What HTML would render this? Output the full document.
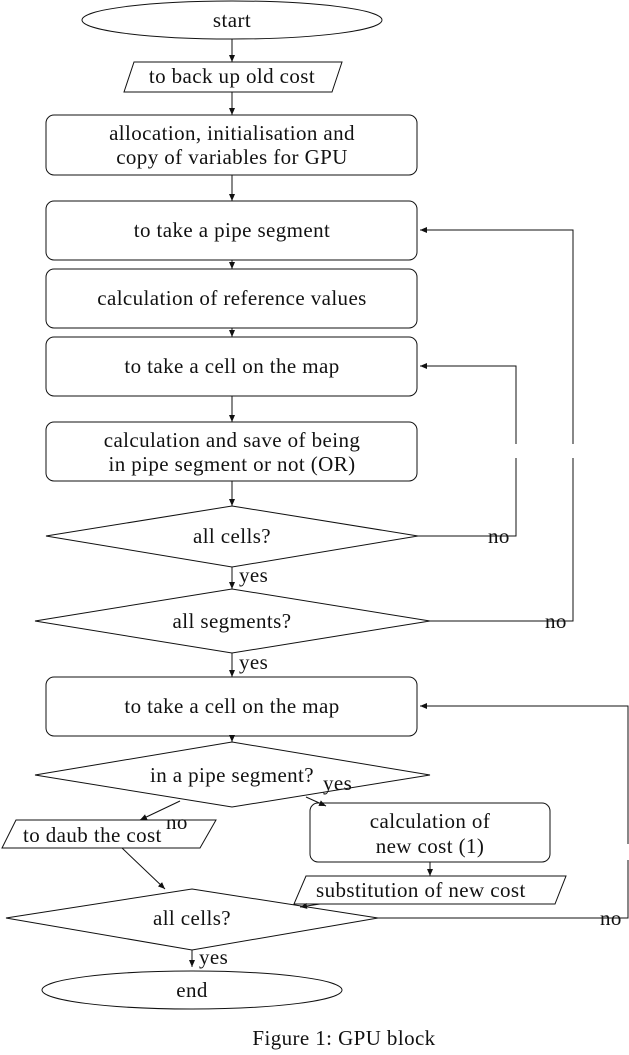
<!DOCTYPE html>
<html><head><style>body{margin:0;background:#fff}svg text{font-family:"Liberation Serif",serif;font-size:21px;letter-spacing:0.4px;fill:#111}</style></head><body>
<svg width="629" height="1050" viewBox="0 0 629 1050" xmlns="http://www.w3.org/2000/svg">
<defs><marker id="a" markerWidth="8" markerHeight="6" refX="7" refY="3" orient="auto" markerUnits="userSpaceOnUse"><path d="M0,0 L7,3 L0,6 Z" fill="#111"/></marker></defs>
<g fill="none" stroke="#111" stroke-width="1">
<ellipse cx="232" cy="20" rx="150" ry="19"/>
<polygon points="134,62 342,62 332,92 124,92"/>
<rect x="46" y="115" width="371" height="60" rx="8"/>
<rect x="46" y="201" width="371" height="59" rx="8"/>
<rect x="46" y="269" width="371" height="59" rx="8"/>
<rect x="46" y="337" width="371" height="59" rx="8"/>
<rect x="46" y="422" width="371" height="59" rx="8"/>
<polygon points="232,506 418,536 232,567 46,536"/>
<polygon points="232,589 430,621 232,653 35,621"/>
<rect x="46" y="677" width="371" height="59" rx="8"/>
<polygon points="232,742 430,775 232,807 35,775"/>
<polygon points="16,820 216,820 200,848 2,848"/>
<rect x="310" y="803" width="240" height="59" rx="8"/>
<polygon points="306,876 566,876 555,904 294,904"/>
<polygon points="192,889 378,918 192,950 6,918"/>
<ellipse cx="192" cy="990" rx="150" ry="19"/>
<polyline points="418,536 516,536 516,458"/>
<polyline points="430,621 573,621 573,458"/>
<polyline points="378,918 628,918 628,860"/>
<g marker-end="url(#a)">
<line x1="232" y1="39" x2="232" y2="62"/>
<line x1="232" y1="92" x2="232" y2="115"/>
<line x1="232" y1="175" x2="232" y2="201"/>
<line x1="232" y1="260" x2="232" y2="269"/>
<line x1="232" y1="328" x2="232" y2="337"/>
<line x1="232" y1="396" x2="232" y2="422"/>
<line x1="232" y1="481" x2="232" y2="506"/>
<line x1="232" y1="567" x2="232" y2="589"/>
<line x1="232" y1="653" x2="232" y2="677"/>
<line x1="232" y1="736" x2="232" y2="742"/>
<line x1="180" y1="801" x2="140" y2="820"/>
<line x1="306" y1="797" x2="326" y2="806"/>
<line x1="122" y1="848" x2="165" y2="889"/>
<line x1="430" y1="862" x2="430" y2="876"/>
<line x1="320" y1="904" x2="300" y2="907"/>
<line x1="192" y1="950" x2="192" y2="967"/>
<polyline points="516,444 516,366 420,366"/>
<polyline points="573,444 573,230 420,230"/>
<polyline points="628,844 628,706 420,706"/>
</g>
</g>
<g text-anchor="middle">
<text x="232" y="27">start</text>
<text x="232" y="83">to back up old cost</text>
<text x="232" y="140">allocation, initialisation and</text>
<text x="232" y="164">copy of variables for GPU</text>
<text x="232" y="237">to take a pipe segment</text>
<text x="232" y="305">calculation of reference values</text>
<text x="232" y="373">to take a cell on the map</text>
<text x="232" y="447">calculation and save of being</text>
<text x="232" y="471">in pipe segment or not (OR)</text>
<text x="232" y="543">all cells?</text>
<text x="232" y="628">all segments?</text>
<text x="232" y="713">to take a cell on the map</text>
<text x="232" y="782">in a pipe segment?</text>
<text x="430" y="828">calculation of</text>
<text x="430" y="853">new cost (1)</text>
<text x="192" y="925">all cells?</text>
<text x="192" y="997">end</text>
<text x="344" y="1045">Figure 1: GPU block</text>
</g>
<text x="23" y="842">to daub the cost</text>
<text x="316" y="897">substitution of new cost</text>
<text x="488" y="543">no</text>
<text x="545" y="628">no</text>
<text x="600" y="925">no</text>
<text x="166" y="829">no</text>
<text x="323" y="790">yes</text>
<text x="239" y="582">yes</text>
<text x="239" y="669">yes</text>
<text x="199" y="964">yes</text>
</svg>
</body></html>
